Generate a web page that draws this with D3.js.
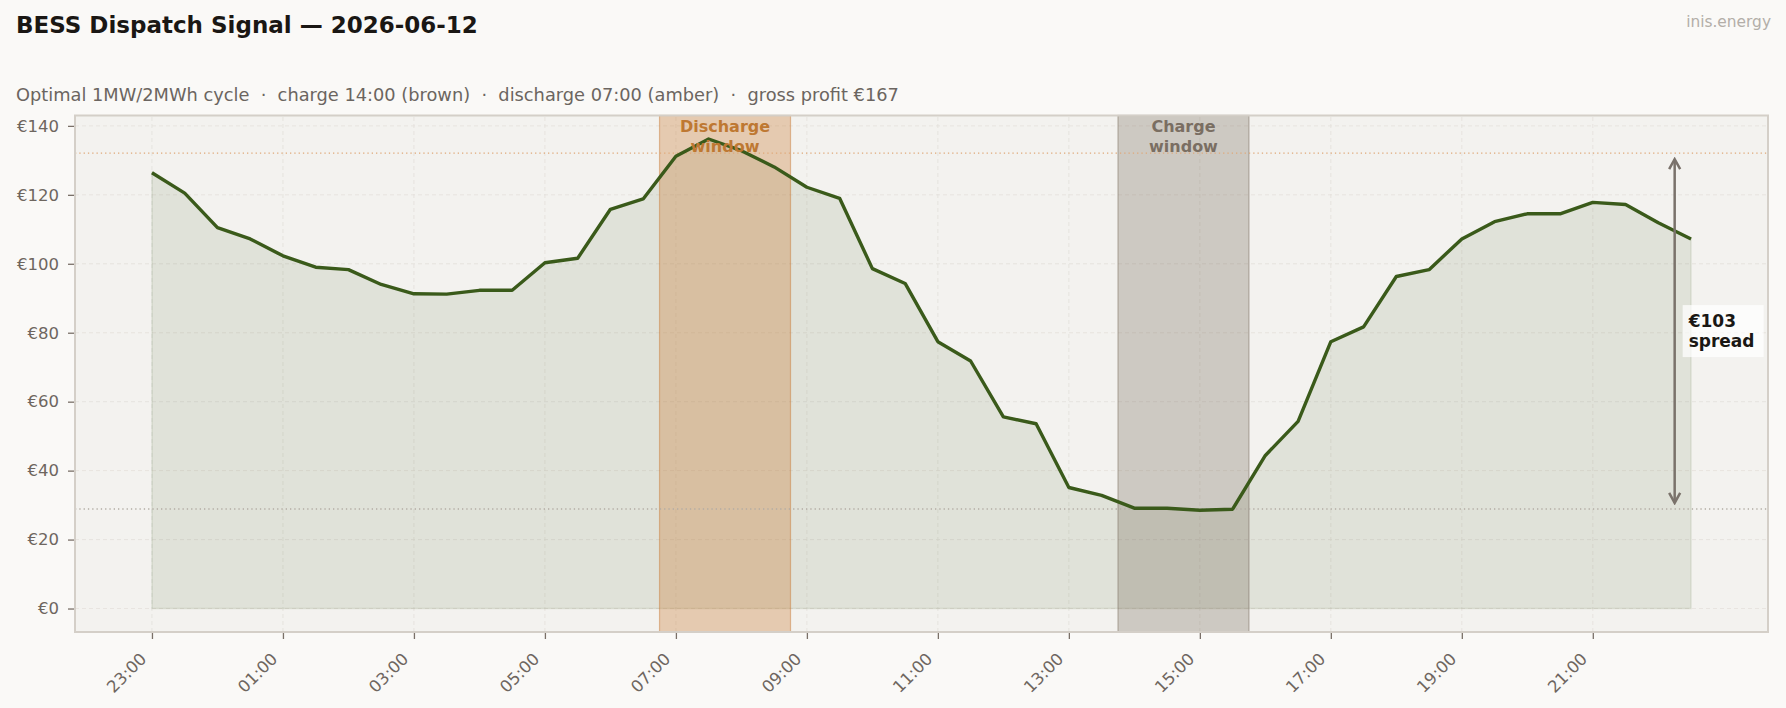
<!DOCTYPE html>
<html>
<head>
<meta charset="utf-8">
<script src="https://cdn.jsdelivr.net/npm/d3@7"></script>
<style>
  html, body { margin: 0; padding: 0; background: #faf9f7; }
  svg { display: block; font-family: "DejaVu Sans", sans-serif; }
</style>
</head>
<body>
<div id="chart"></div>
<script>

// half-hourly slots of the delivery day (starts 23:00 the evening before)
let times = [
  "23:00", "23:30", "00:00", "00:30", "01:00", "01:30", "02:00", "02:30",
  "03:00", "03:30", "04:00", "04:30", "05:00", "05:30", "06:00", "06:30",
  "07:00", "07:30", "08:00", "08:30", "09:00", "09:30", "10:00", "10:30",
  "11:00", "11:30", "12:00", "12:30", "13:00", "13:30", "14:00", "14:30",
  "15:00", "15:30", "16:00", "16:30", "17:00", "17:30", "18:00", "18:30",
  "19:00", "19:30", "20:00", "20:30", "21:00", "21:30", "22:00", "22:30"
];

// day-ahead price, €/MWh
let prices = [
  126.4, 120.5, 110.5, 107.2, 102.3, 99.0, 98.3, 94.0,
  91.3, 91.2, 92.3, 92.3, 100.3, 101.6, 115.8, 118.8,
  131.2, 136.2, 132.8, 128.1, 122.2, 119.0, 98.6, 94.3,
  77.4, 71.8, 55.6, 53.6, 35.1, 32.8, 29.1, 29.1,
  28.5, 28.8, 44.4, 54.3, 77.4, 81.7, 96.3, 98.3,
  107.2, 112.2, 114.5, 114.5, 117.8, 117.2, 111.9, 107.2
];

let yTicks = [0, 20, 40, 60, 80, 100, 120, 140];
let xTickEvery = 4; // every 2 hours

// dispatch windows (2 h = 4 slots)
let dischargeStart = "07:00";
let chargeStart = "14:00";
let windowSlots = 4;

let titleText = "BESS Dispatch Signal \u2014 2026-06-12";
let subtitleText = "Optimal 1MW/2MWh cycle  \u00b7  charge 14:00 (brown)  \u00b7  discharge 07:00 (amber)  \u00b7  gross profit \u20ac167";
let sourceText = "inis.energy";

function dispatchChart(width, height, selector) {

  console.log("Running function dispatchChart");

  ///////////////////////
  /// Data processing ///
  ///////////////////////

  let data = prices.map((p, i) => ({ i: i, t: times[i], price: p }));

  let dIdx = times.indexOf(dischargeStart);
  let cIdx = times.indexOf(chargeStart);

  let dischargeAvg = d3.mean(prices.slice(dIdx, dIdx + windowSlots));
  let chargeAvg = d3.mean(prices.slice(cIdx, cIdx + windowSlots));
  let spread = dischargeAvg - chargeAvg;

  ///////////////////////////////////////////
  //// Dimensions, scales and generators ////
  ///////////////////////////////////////////

  let margin = { top: 115.5, left: 75, right: 18, bottom: 76 };

  let n = prices.length - 1;
  let yMax = d3.max(prices);

  let x = d3.scaleLinear()
    .domain([-0.05 * n, n * 1.05])
    .range([margin.left, width - margin.right]);

  let y = d3.scaleLinear()
    .domain([-0.05 * yMax, yMax * 1.05])
    .range([height - margin.bottom, margin.top]);

  let line = d3.line()
    .x(d => x(d.i))
    .y(d => y(d.price));

  let area = d3.area()
    .x(d => x(d.i))
    .y0(y(0))
    .y1(d => y(d.price));

  //////////////////////////
  /// Building the chart ///
  //////////////////////////

  let svg = d3.select(selector)
    .append("svg")
    .attr("width", width)
    .attr("height", height);

  svg.append("rect")
    .attr("width", width)
    .attr("height", height)
    .attr("fill", "#faf9f7");

  // plot background
  svg.append("rect")
    .attr("x", x.range()[0])
    .attr("y", y.range()[1])
    .attr("width", x.range()[1] - x.range()[0])
    .attr("height", y.range()[0] - y.range()[1])
    .attr("fill", "#f3f2ef");

  let xTickVals = d3.range(0, prices.length, xTickEvery);

  // grid
  svg.append("g")
    .selectAll("line")
    .data(yTicks)
    .join("line")
    .attr("x1", x.range()[0])
    .attr("x2", x.range()[1])
    .attr("y1", d => y(d))
    .attr("y2", d => y(d))
    .attr("stroke", "#e3e0da")
    .attr("stroke-width", 0.8)
    .attr("stroke-dasharray", "4,3");

  svg.append("g")
    .selectAll("line")
    .data(xTickVals)
    .join("line")
    .attr("x1", d => x(d))
    .attr("x2", d => x(d))
    .attr("y1", y.range()[0])
    .attr("y2", y.range()[1])
    .attr("stroke", "#e3e0da")
    .attr("stroke-width", 0.8)
    .attr("stroke-dasharray", "4,3");

  // area under the price
  svg.append("path")
    .datum(data)
    .attr("d", area)
    .attr("fill", "rgba(58,90,26,0.1)")
    .attr("stroke", "rgba(58,90,26,0.1)")
    .attr("stroke-width", 1.5);

  // windows
  let windows = [
    { start: dIdx, fill: "rgba(200,120,50,0.33)", edge: "rgba(200,120,50,0.45)", color: "#be7832", label: ["Discharge", "window"] },
    { start: cIdx, fill: "rgba(120,105,90,0.3)", edge: "rgba(120,105,90,0.45)", color: "#7a6e62", label: ["Charge", "window"] }
  ];

  svg.append("g")
    .selectAll("rect")
    .data(windows)
    .join("rect")
    .attr("x", d => x(d.start - 0.5))
    .attr("width", d => x(d.start + windowSlots - 0.5) - x(d.start - 0.5))
    .attr("y", y.range()[1])
    .attr("height", y.range()[0] - y.range()[1])
    .attr("fill", d => d.fill)
    .attr("stroke", d => d.edge)
    .attr("stroke-width", 1.2);

  // avg price levels
  svg.append("line")
    .attr("x1", x.range()[0]).attr("x2", x.range()[1])
    .attr("y1", y(dischargeAvg)).attr("y2", y(dischargeAvg))
    .attr("stroke", "#e0a878")
    .attr("stroke-width", 1.3)
    .attr("stroke-dasharray", "1.3,3");

  svg.append("line")
    .attr("x1", x.range()[0]).attr("x2", x.range()[1])
    .attr("y1", y(chargeAvg)).attr("y2", y(chargeAvg))
    .attr("stroke", "#b3aca4")
    .attr("stroke-width", 1.3)
    .attr("stroke-dasharray", "1.3,3");

  // price line
  svg.append("path")
    .datum(data)
    .attr("d", line)
    .attr("fill", "none")
    .attr("stroke", "#3a5a1a")
    .attr("stroke-width", 3.4)
    .attr("stroke-linejoin", "round");

  // window labels
  windows.forEach(w => {
    let cx = (x(w.start - 0.5) + x(w.start + windowSlots - 0.5)) / 2;
    svg.append("text")
      .attr("x", cx)
      .attr("y", y.range()[1] + 16)
      .attr("text-anchor", "middle")
      .attr("font-size", 16)
      .attr("font-weight", "bold")
      .attr("fill", w.color)
      .selectAll("tspan")
      .data(w.label)
      .join("tspan")
      .attr("x", cx)
      .attr("dy", (d, k) => k == 0 ? 0 : 20.6)
      .text(d => d);
  });

  // spread arrow
  let defs = svg.append("defs");
  defs.append("marker")
    .attr("id", "chev")
    .attr("viewBox", "-12 -7 14 14")
    .attr("markerUnits", "userSpaceOnUse")
    .attr("markerWidth", 14)
    .attr("markerHeight", 14)
    .attr("refX", 0)
    .attr("refY", 0)
    .attr("orient", "auto-start-reverse")
    .append("path")
    .attr("d", "M-10,-5.5L0,0L-10,5.5")
    .attr("fill", "none")
    .attr("stroke", "#7a726b")
    .attr("stroke-width", 2.5)
    .attr("stroke-linejoin", "miter");

  let ax = x(n - 0.5);
  svg.append("line")
    .attr("x1", ax).attr("x2", ax)
    .attr("y1", y(dischargeAvg) + 6)
    .attr("y2", y(chargeAvg) - 6)
    .attr("stroke", "#7a726b")
    .attr("stroke-width", 2.5)
    .attr("marker-start", "url(#chev)")
    .attr("marker-end", "url(#chev)");

  let midY = y((dischargeAvg + chargeAvg) / 2);
  svg.append("rect")
    .attr("x", ax + 8)
    .attr("y", midY - 26)
    .attr("width", 81)
    .attr("height", 52)
    .attr("fill", "rgba(255,255,255,0.72)");

  svg.append("text")
    .attr("font-size", 17)
    .attr("font-weight", "bold")
    .attr("fill", "#1a1714")
    .selectAll("tspan")
    .data(["\u20ac" + Math.round(spread), "spread"])
    .join("tspan")
    .attr("x", ax + 14)
    .attr("y", (d, k) => midY - 4.5 + k * 20.6)
    .text(d => d);

  // frame
  svg.append("rect")
    .attr("x", x.range()[0])
    .attr("y", y.range()[1])
    .attr("width", x.range()[1] - x.range()[0])
    .attr("height", y.range()[0] - y.range()[1])
    .attr("fill", "none")
    .attr("stroke", "#d4cfc8")
    .attr("stroke-width", 2);

  // axes
  let yAxis = svg.append("g")
    .attr("transform", "translate(" + (x.range()[0] - 1) + ",0)")
    .call(d3.axisLeft(y).tickValues(yTicks).tickSize(6).tickPadding(9).tickFormat(d => "\u20ac" + d));

  let xAxis = svg.append("g")
    .attr("transform", "translate(0," + (y.range()[0] + 1) + ")")
    .call(d3.axisBottom(x).tickValues(xTickVals).tickSize(6).tickFormat(i => times[i]));

  [yAxis, xAxis].forEach(g => {
    g.select(".domain").remove();
    g.selectAll(".tick line").attr("stroke", "#7a7068").attr("stroke-width", 1.3);
    g.selectAll(".tick text")
      .attr("fill", "#6e665f")
      .attr("font-size", 16.5)
      .attr("font-family", "DejaVu Sans");
  });

  xAxis.selectAll(".tick text")
    .attr("text-anchor", "end")
    .attr("dy", null)
    .attr("y", null)
    .attr("transform", "translate(-5,27) rotate(-45)");

  // titles
  svg.append("text")
    .attr("x", 16)
    .attr("y", 33)
    .attr("font-size", 23)
    .attr("font-weight", "bold")
    .attr("fill", "#1a1714")
    .text(titleText);

  svg.append("text")
    .attr("x", 16)
    .attr("y", 101)
    .attr("font-size", 17.8)
    .attr("fill", "#6b6560")
    .style("white-space", "pre")
    .text(subtitleText);

  svg.append("text")
    .attr("x", width - 15)
    .attr("y", 27)
    .attr("text-anchor", "end")
    .attr("font-size", 15.4)
    .attr("fill", "#b3aea8")
    .text(sourceText);
}

dispatchChart(1786, 708, "#chart");
</script>
</body>
</html>
